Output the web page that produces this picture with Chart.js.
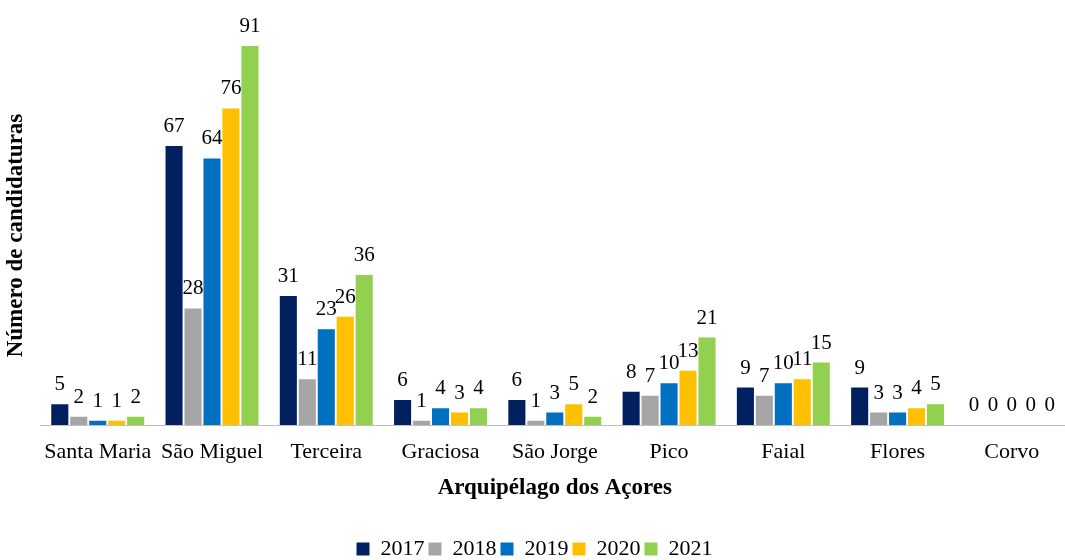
<!DOCTYPE html>
<html>
<head>
<meta charset="utf-8">
<script src="https://cdn.jsdelivr.net/npm/chart.js@4.4.1/dist/chart.umd.min.js"></script>
<style>
  html, body { margin: 0; padding: 0; background: #fff; overflow: hidden; }
  #wrap { width: 1069px; height: 570px; }
</style>
</head>
<body>
<div id="wrap"><canvas id="islandsChart"></canvas></div>
<script>
// Candidaturas por ilha e por ano
const islands = ["Santa Maria", "São Miguel", "Terceira", "Graciosa", "São Jorge", "Pico", "Faial", "Flores", "Corvo"]
const years = ["2017", "2018", "2019", "2020", "2021"]
const values2017 = [5, 67, 31, 6, 6, 8, 9, 9, 0]
const values2018 = [2, 28, 11, 1, 1, 7, 7, 3, 0]
const values2019 = [1, 64, 23, 4, 3, 10, 10, 3, 0]
const values2020 = [1, 76, 26, 3, 5, 13, 11, 4, 0]
const values2021 = [2, 91, 36, 4, 2, 21, 15, 5, 0]
const yearColors = ["#002060", "#A5A5A5", "#0070C0", "#FFC000", "#92D050"]

const fontFamily = "'Liberation Serif', 'Times New Roman', serif"
const seriesValues = [values2017, values2018, values2019, values2020, values2021]

// Draw value labels above each bar
const valueLabels = {
  id: "valueLabels",
  afterDatasetsDraw(chart) {
    const ctx = chart.ctx
    ctx.save()
    ctx.font = "21px " + fontFamily
    ctx.fillStyle = "#000"
    ctx.textAlign = "center"
    ctx.textBaseline = "alphabetic"
    chart.data.datasets.forEach((ds, i) => {
      const meta = chart.getDatasetMeta(i)
      meta.data.forEach((bar, j) => {
        ctx.fillText(String(ds.data[j]), bar.x, bar.y - 14)
      })
    })
    ctx.restore()
  },
}

document.addEventListener("DOMContentLoaded", () => {
  const ctx = document.getElementById("islandsChart").getContext("2d")
  new Chart(ctx, {
    type: "bar",
    data: {
      labels: islands,
      datasets: years.map((year, i) => ({
        label: year,
        data: seriesValues[i],
        backgroundColor: yearColors[i],
        borderWidth: 0,
        categoryPercentage: 0.83,
        barPercentage: 0.9,
      })),
    },
    options: {
      responsive: true,
      maintainAspectRatio: false,
      animation: false,
      layout: { padding: { top: 46, right: 0, bottom: 0, left: 0 } },
      plugins: {
        tooltip: { enabled: false },
        legend: {
          position: "bottom",
          labels: {
            color: "#000",
            font: { family: fontFamily, size: 22 },
            boxWidth: 13,
            boxHeight: 13,
            padding: 4,
          },
        },
      },
      scales: {
        x: {
          grid: { display: false },
          border: { color: "#BFBFBF", width: 1 },
          ticks: { color: "#000", font: { family: fontFamily, size: 22 }, padding: 6 },
          title: {
            display: true,
            text: "Arquipélago dos Açores",
            color: "#000",
            font: { family: fontFamily, size: 23, weight: "bold" },
            padding: { top: 3, bottom: 32 },
          },
        },
        y: {
          min: 0,
          max: 91,
          grid: { display: false },
          border: { display: false },
          ticks: { display: false },
          title: {
            display: true,
            text: "Número de candidaturas",
            color: "#000",
            font: { family: fontFamily, size: 23, weight: "bold" },
            padding: { top: 2, bottom: 3 },
          },
        },
      },
    },
    plugins: [valueLabels],
  })
})
</script>
</body>
</html>
